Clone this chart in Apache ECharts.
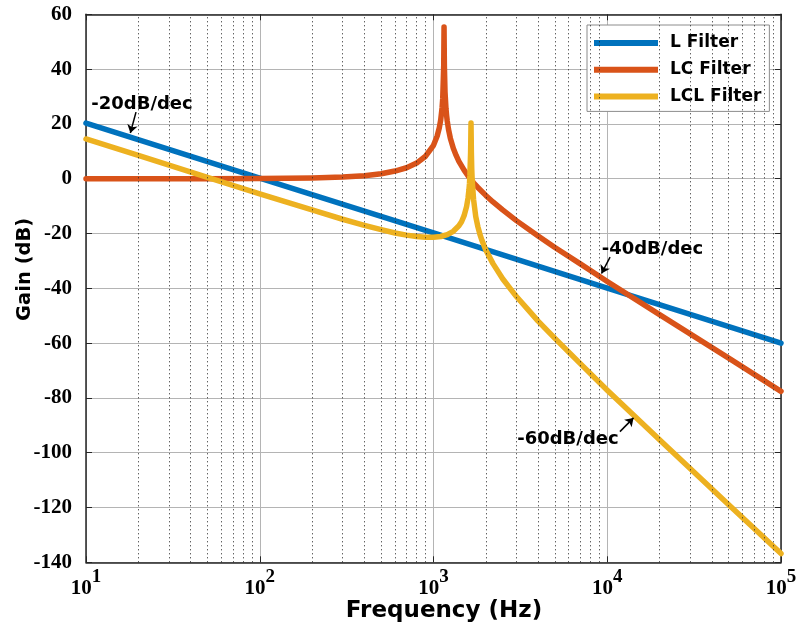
<!DOCTYPE html>
<html><head><meta charset="utf-8">
<script src="https://cdn.jsdelivr.net/npm/echarts@6/dist/echarts.min.js"></script>
<style>html,body{margin:0;padding:0;background:#fff}#c{width:798px;height:626px}</style>
</head><body><div id="c"></div><script>
// ---- data ----
const seriesNames = ['L Filter', 'LC Filter', 'LCL Filter'];

const lFreq = [10, 100, 1000, 10000, 100000];
const lGain = [20.3, 0.2, -19.8, -39.9, -60];

const lcFreq = [10, 50, 100, 200, 300, 400, 500, 600, 700, 800, 900, 1000, 1050, 1080, 1100, 1120, 1130, 1145, 1150, 1155, 1165, 1180, 1190, 1200, 1220, 1250, 1300, 1350, 1400, 1500, 1600, 1700, 1800, 2000, 2200, 2500, 3000, 4000, 5000, 7000, 10000, 20000, 50000, 100000];
const lcGain = [0, 0, 0.1, 0.3, 0.6, 1.1, 1.8, 2.8, 4.0, 5.7, 8.2, 12.2, 15.6, 18.6, 21.4, 25.8, 29.2, 41.2, 55.4, 41.2, 31.6, 25.5, 23.0, 21.0, 18.0, 14.8, 11.1, 8.5, 6.3, 3.1, 0.6, -1.5, -3.2, -6.1, -8.5, -11.4, -15.3, -20.9, -25.1, -31.1, -37.5, -49.6, -65.5, -77.6];

const lclFreq = [10, 20, 50, 100, 200, 300, 400, 500, 600, 700, 800, 900, 1000, 1100, 1200, 1300, 1400, 1450, 1500, 1550, 1580, 1600, 1610, 1620, 1635, 1640, 1644, 1648, 1652, 1660, 1670, 1700, 1750, 1800, 1850, 1900, 2000, 2200, 2500, 2800, 3000, 3500, 4000, 5000, 7000, 10000, 20000, 50000, 100000];
const lclGain = [14.5, 8.5, 0.5, -5.5, -11.4, -14.8, -17.0, -18.6, -19.8, -20.6, -21.1, -21.4, -21.4, -21.1, -20.4, -19.2, -17.2, -15.7, -13.5, -10.2, -7.1, -4.0, -1.9, 1.1, 9.5, 15.0, 20.3, 15.0, 9.5, 3.5, -0.5, -7.5, -13.8, -17.5, -20.3, -22.5, -26, -31, -36.5, -40.6, -43, -47.8, -52, -58.3, -67.5, -77.2, -95.3, -119, -136.8];

const minorGridFreq = [20, 30, 40, 50, 60, 70, 80, 90, 200, 300, 400, 500, 600, 700, 800, 900, 2000, 3000, 4000, 5000, 6000, 7000, 8000, 9000, 20000, 30000, 40000, 50000, 60000, 70000, 80000, 90000];

const annoTexts = ['-20dB/dec', '-40dB/dec', '-60dB/dec'];
const annoTextAt = [[21.0, 27.3], [18200, -25.7], [5940, -95.2]];
const arrowFrom = [[19.4, 24.3], [10380, -28.6], [11830, -92.3]];
const arrowTo = [[18.0, 16.7], [9270, -34.6], [14160, -87.3]];

const colors = ['#0072BD', '#D95319', '#EDB120'];

// ---- build ----
const pairs = (xs, ys) => xs.map((x, i) => [x, ys[i]]);
const lineSeries = (name, xs, ys, color) => ({
  name, type: 'line', data: pairs(xs, ys), showSymbol: false, smooth: false,
  lineStyle: { color, width: 5.5, cap: 'round', join: 'round' }, itemStyle: { color },
  z: 3, silent: true
});

const sans = 'DejaVu Sans';
const chart = echarts.init(document.getElementById('c'), null, { renderer: 'canvas' });
chart.setOption({
  animation: false,
  backgroundColor: '#fff',
  grid: { left: 86, right: 17, top: 14.3, bottom: 63.7, containLabel: false, outerBoundsMode: 'none' },
  legend: {
    data: seriesNames, orient: 'vertical', left: 587, top: 25,
    icon: 'rect', itemWidth: 64, itemHeight: 6, itemGap: 6.7,
    padding: [8, 8, 5, 7], borderColor: '#8c8c8c', borderWidth: 1, backgroundColor: '#fff',
    textStyle: { fontFamily: sans, fontWeight: 'bold', fontSize: 17, color: '#000', lineHeight: 20, padding: [0, 0, 0, 7] },
    selectedMode: false
  },
  xAxis: [{
    type: 'log', logBase: 10, min: 10, max: 100000,
    name: 'Frequency (Hz)', nameLocation: 'middle', nameGap: 37, nameMoveOverlap: false,
    nameTextStyle: { fontFamily: sans, fontWeight: 'bold', fontSize: 23, color: '#000', padding: [0, 0, 0, 21] },
    axisLine: { show: true, onZero: false, lineStyle: { color: '#262626', width: 1.5 } },
    axisTick: { show: true, inside: true, length: 6, lineStyle: { color: '#262626' } },
    axisLabel: {
      margin: 5,
      formatter: v => '{b|10}{s|' + Math.round(Math.log10(v)) + '}',
      rich: {
        b: { fontFamily: 'Liberation Serif', fontWeight: 'bold', fontSize: 21, color: '#000', lineHeight: 32, verticalAlign: 'bottom' },
        s: { fontFamily: 'Liberation Serif', fontWeight: 'bold', fontSize: 19, color: '#000', lineHeight: 32, verticalAlign: 'top' }
      }
    },
    splitLine: { show: true, lineStyle: { color: '#b4b4b4', width: 1 } }
  }, {
    type: 'log', logBase: 10, min: 10, max: 100000, position: 'top',
    axisLine: { show: true, onZero: false, lineStyle: { color: '#262626', width: 1.5 } },
    axisTick: { show: true, inside: true, length: 6, lineStyle: { color: '#262626' } },
    axisLabel: { show: false }, splitLine: { show: false }
  }],
  yAxis: [{
    type: 'value', min: -140, max: 60, interval: 20,
    name: 'Gain (dB)', nameLocation: 'middle', nameGap: 51, nameRotate: 90, nameMoveOverlap: false,
    nameTextStyle: { fontFamily: sans, fontWeight: 'bold', fontSize: 19.5, color: '#000', padding: [0, 0, 0, 38] },
    axisLine: { show: true, lineStyle: { color: '#262626', width: 1.5 } },
    axisTick: { show: true, inside: true, length: 6, lineStyle: { color: '#262626' } },
    axisLabel: { margin: 14, fontFamily: 'Liberation Serif', fontWeight: 'bold', fontSize: 21, color: '#000' },
    splitLine: { show: true, lineStyle: { color: '#b4b4b4', width: 1 } }
  }, {
    type: 'value', min: -140, max: 60, interval: 20, position: 'right',
    axisLine: { show: true, lineStyle: { color: '#262626', width: 1.5 } },
    axisTick: { show: true, inside: true, length: 6, lineStyle: { color: '#262626' } },
    axisLabel: { show: false }, splitLine: { show: false }
  }],
  series: [
    {
      type: 'line', data: [], z: 1, silent: true,
      markLine: {
        silent: true, symbol: ['none', 'none'], animation: false,
        label: { show: false },
        lineStyle: { color: '#222', width: 1, type: [1, 3] },
        data: minorGridFreq.map(f => ({ xAxis: f }))
      }
    },
    lineSeries(seriesNames[0], lFreq, lGain, colors[0]),
    lineSeries(seriesNames[1], lcFreq, lcGain, colors[1]),
    lineSeries(seriesNames[2], lclFreq, lclGain, colors[2]),
    {
      type: 'line', data: [], z: 5, silent: true,
      markLine: {
        silent: true, symbol: ['none', 'arrow'], symbolSize: 8, animation: false,
        label: { show: false },
        lineStyle: { color: '#000', width: 1.5, type: 'solid' },
        data: arrowFrom.map((a, i) => [{ coord: a }, { coord: arrowTo[i] }])
      },
      markPoint: {
        silent: true, symbol: 'circle', symbolSize: 1, animation: false,
        itemStyle: { color: 'rgba(0,0,0,0)' },
        label: { show: true, position: 'inside', formatter: p => p.name, fontFamily: sans, fontWeight: 'bold', fontSize: 18, color: '#000' },
        data: annoTexts.map((t, i) => ({ name: t, coord: annoTextAt[i] }))
      }
    }
  ]
});
</script></body></html>
